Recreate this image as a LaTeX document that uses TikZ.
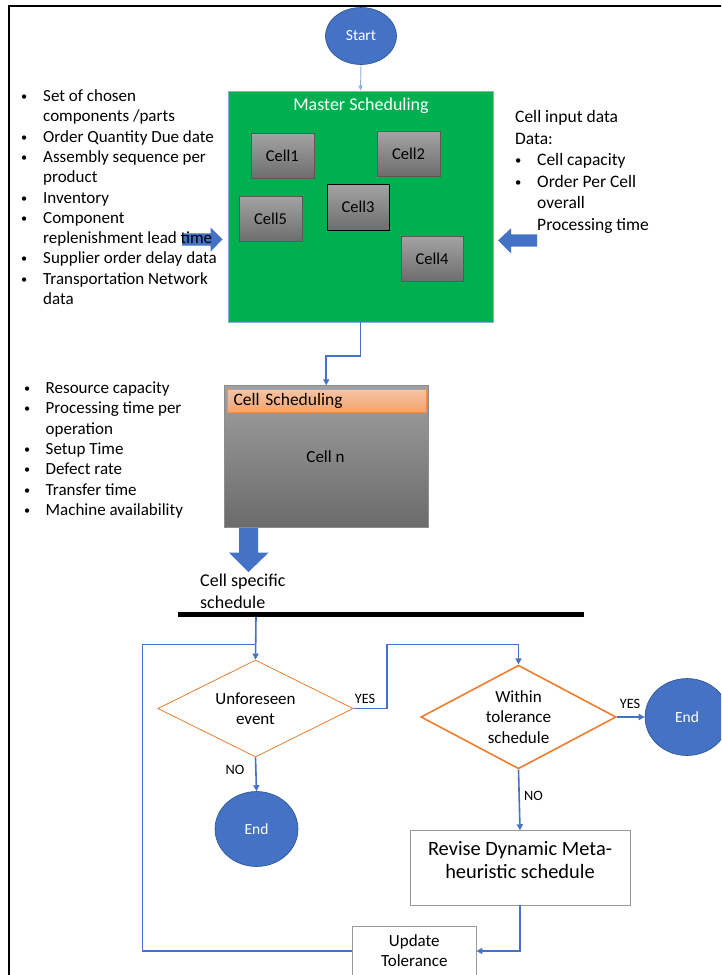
\documentclass[tikz,border=0pt]{standalone}
\usepackage{fontspec}
\setmainfont{Carlito}
\usetikzlibrary{shapes.geometric,arrows.meta}
\definecolor{accblue}{HTML}{4472C4}
\definecolor{lightblue}{HTML}{8FAADC}
\definecolor{darkblue}{HTML}{2F528F}
\definecolor{accorange}{HTML}{ED7D31}
\definecolor{accgreen}{HTML}{00B050}
\newcommand\myfs[2]{\fontsize{#1}{#2}\selectfont}
\newcommand\bul{\raisebox{1pt}{\scalebox{0.72}{\textbullet}}}
\begin{document}
\begin{tikzpicture}[x=1pt,y=-1pt,
  conn/.style={draw=accblue,line width=1.6pt,-{Triangle[length=6pt,width=6pt]}},
  plainconn/.style={draw=accblue,line width=1.6pt},
  thinconn/.style={draw=lightblue,line width=0.9pt,-{Triangle[length=5pt,width=4pt]}},
  cellbox/.style={rectangle,draw=black!65,line width=0.6pt,top color=black!36,bottom color=black!57,
    minimum width=63pt,minimum height=45pt,inner sep=0pt,font=\myfs{16.5}{18}},
  oval/.style={ellipse,fill=accblue,draw=darkblue,line width=0.6pt,text=white,inner sep=0pt,font=\myfs{15.5}{18}},
  dia/.style={diamond,aspect=2,draw=accorange,fill=white,inner sep=0pt,align=center,font=\myfs{17}{20.3}},
  lbl/.style={inner sep=0pt,font=\myfs{14.3}{16}},
  whitebox/.style={rectangle,draw=black!40,line width=0.8pt,fill=white,inner sep=0pt},
  listnode/.style={inner sep=0pt,anchor=base west},
  blockarrow/.style={fill=accblue,draw=none}
]
\useasboundingbox (0,0) rectangle (721,975);
\clip (0,0) rectangle (721,975);
\fill[white] (0,0) rectangle (721,975);

% outer frame
\draw[line width=2pt,black] (9,980) -- (9,6) -- (730,6);

% block arrows (drawn first, behind text)
\fill[blockarrow] (182,233.3) -- (210.6,233.3) -- (210.6,227.5) -- (222.5,239.4) -- (210.6,251.5) -- (210.6,245.6) -- (182,245.6) -- cycle;
\fill[blockarrow] (537,234.3) -- (511,234.3) -- (511,228.3) -- (498,240.5) -- (511,253.3) -- (511,246.7) -- (537,246.7) -- cycle;
\fill[blockarrow] (239,526) -- (258,526) -- (258,552.7) -- (268.5,552.7) -- (248.5,572) -- (229,552.7) -- (239,552.7) -- cycle;

% start
\node[oval,minimum width=71pt,minimum height=57pt] (start) at (361,36) {Start};

% master scheduling
\node[rectangle,fill=accgreen,draw=lightblue,line width=0.8pt,minimum width=265pt,minimum height=231pt,inner sep=0pt] (master) at (360.5,206.5) {};
\node[inner sep=0pt,text=white,font=\myfs{18}{20}] (mtitle) at (361,106) {Master Scheduling};
\node[cellbox] (c1) at (282.3,155.5) {Cell1};
\node[cellbox] (c2) at (408.5,153.5) {Cell2};
\node[cellbox,draw=black,line width=0.9pt,minimum width=62pt,minimum height=46pt] (c3) at (358,207) {Cell3};
\node[cellbox] (c5) at (270.5,218.5) {Cell5};
\node[cellbox,minimum width=62pt] (c4) at (432,258.5) {Cell4};

\draw[thinconn] (start.south) -- (master.north);

% left input list
\node[listnode] (inlist) at (21,101.5) {\myfs{17}{20.3}\begin{tabular}[t]{@{}p{22pt}@{}l@{}}
\bul & Set of chosen\\
 & components /parts\\
\bul & Order Quantity Due date\\
\bul & Assembly sequence per\\
 & product\\
\bul & Inventory\\
\bul & Component\\
 & replenishment lead time\\
\bul & Supplier order delay data\\
\bul & Transportation Network\\
 & data
\end{tabular}};

% right input list
\node[listnode] (celldata) at (515,122.5) {\myfs{17.5}{21.5}\begin{tabular}[t]{@{}p{22pt}@{}l@{}}
\multicolumn{2}{@{}l@{}}{Cell input data}\\
\multicolumn{2}{@{}l@{}}{Data:}\\
\bul & Cell capacity\\
\bul & Order Per Cell\\
 & overall\\
 & Processing time
\end{tabular}};

% cell scheduling
\node[rectangle,draw=black!45,line width=0.8pt,top color=black!37,bottom color=black!58,minimum width=204.5pt,minimum height=141.3pt,inner sep=0pt] (celln) at (326.25,456.35) {};
\node[rectangle,draw=accorange!85,line width=0.6pt,top color=accorange!45,bottom color=accorange!70,minimum width=199pt,minimum height=23pt,text width=186pt,inner xsep=6.5pt,inner ysep=0pt,align=left,font=\myfs{17.5}{19}] (cellsch) at (326.5,400.5) {\raisebox{-2pt}{Cell Scheduling}};
\node[inner sep=0pt,font=\myfs{17}{19}] (cellnlbl) at (325.5,457) {Cell n};

\draw[conn] (master.south) -- ++(0,33.5) -| (celln.north);

% second list
\node[listnode] (celllist) at (24,393.5) {\myfs{17}{20.3}\begin{tabular}[t]{@{}p{21.5pt}@{}l@{}}
\bul & Resource capacity\\
\bul & Processing time per\\
 & operation\\
\bul & Setup Time\\
\bul & Defect rate\\
\bul & Transfer time\\
\bul & Machine availability
\end{tabular}};

\node[listnode] (specific) at (200,586.5) {\myfs{18}{22}\begin{tabular}[t]{@{}l@{}}
Cell specific\\
schedule
\end{tabular}};

% black bar
\draw[line width=5pt,black] (177.5,614.7) -- (584,614.7);
\coordinate (barpt) at (256,617);

% decision flow
\node[dia,line width=0.8pt,minimum width=195.3pt,minimum height=97pt] (d1) at (255.5,708.5) {Unforeseen\\event};
\node[dia,line width=1.6pt,minimum width=195.3pt,minimum height=103.7pt] (d2) at (518.5,717) {Within\\tolerance\\schedule};
\node[oval,minimum width=83pt,minimum height=75pt] (e1) at (256.5,829) {End};
\node[oval,minimum width=84pt,minimum height=77pt] (e2) at (687,717) {End};
\node[whitebox,minimum width=220pt,minimum height=74.3pt] (rev) at (520,867.8) {};
\node[inner sep=0pt,align=center,font=\myfs{20.4}{23.7}] (revtext) at (520,860) {Revise Dynamic Meta-\\heuristic schedule};
\node[whitebox,minimum width=123.4pt,minimum height=48.6pt,align=center,font=\myfs{17}{20}] (upd) at (414.3,951) {Update\\Tolerance};

\coordinate (loopA) at (142.5,644.3);
\coordinate (yesA) at (387,644.3);

\draw[conn] (barpt) -- (d1.north);
\draw[plainconn] (upd.west) -| (loopA) -- (loopA -| d1.north);
\draw[conn] (d1.east) -| (yesA) -| (d2.north);
\draw[conn] (d1.south) -- (e1.north);
\draw[conn] (d2.east) -- (e2.west);
\draw[conn] (d2.south) -- (rev.north);
\draw[conn] (rev.south) |- (upd.east);

\node[lbl] (yes1) at (365,699) {YES};
\node[lbl] (yes2) at (630,704) {YES};
\node[lbl] (no1) at (235,770) {NO};
\node[lbl] (no2) at (533.5,796) {NO};
\end{tikzpicture}
\end{document}
